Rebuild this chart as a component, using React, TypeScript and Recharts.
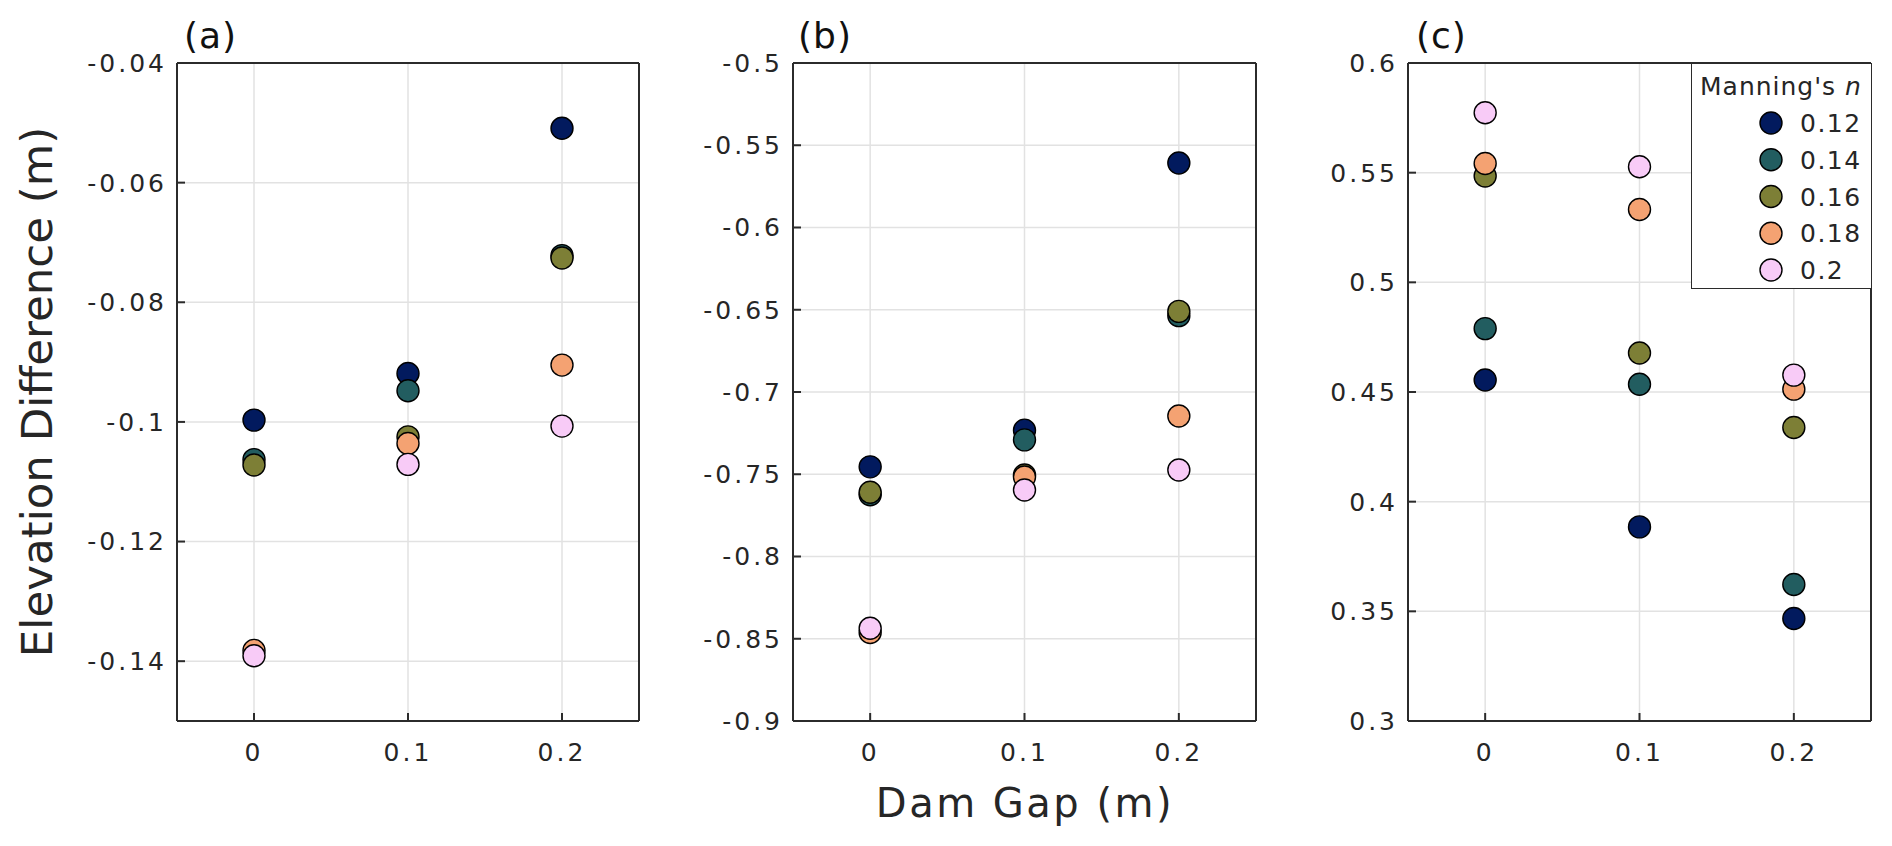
import { ScatterChart, Scatter, XAxis, YAxis, CartesianGrid, Legend } from "recharts";

// Dam gap (m) on the x axis
const damGaps = [0, 0.1, 0.2];

// Manning's n series
const manningN = ["0.12", "0.14", "0.16", "0.18", "0.2"];
const seriesColors = ["#021a5e", "#225d60", "#7d7f36", "#f4a272", "#f8cbf7"];

// (a) elevation difference, one row per n, one value per gap
const panelAValues = [
  [-0.0997, -0.0919, -0.0509],
  [-0.1063, -0.0948, -0.0722],
  [-0.1072, -0.1025, -0.0726],
  [-0.1382, -0.1036, -0.0905],
  [-0.1391, -0.1071, -0.1007],
];
const panelATicks = [-0.14, -0.12, -0.1, -0.08, -0.06, -0.04];

// (b)
const panelBValues = [
  [-0.7455, -0.7232, -0.5608],
  [-0.7625, -0.7291, -0.6536],
  [-0.7609, -0.7505, -0.651],
  [-0.8462, -0.7517, -0.7146],
  [-0.8436, -0.7596, -0.7474],
];
const panelBTicks = [-0.9, -0.85, -0.8, -0.75, -0.7, -0.65, -0.6, -0.55, -0.5];

// (c)
const panelCValues = [
  [0.4555, 0.3885, 0.3467],
  [0.4789, 0.4535, 0.3622],
  [0.5485, 0.4678, 0.4338],
  [0.5542, 0.5332, 0.4513],
  [0.5773, 0.5527, 0.4577],
];
const panelCTicks = [0.3, 0.35, 0.4, 0.45, 0.5, 0.55, 0.6];

const gapTicks = [0, 0.1, 0.2];

const TEXT = "#262626";
const AXIS = "#2b2b2b";
const HEIGHT = 846;
const PLOT_TOP = 63;
const PLOT_BOTTOM = 721;
const YAXIS_W = 70;
const XAXIS_H = 40;

function LegendBox({ payload }: any) {
  const items = payload && payload.length ? payload : manningN.map((n, i) => ({ value: n, color: seriesColors[i] }));
  return (
    <svg width={178} height={223} style={{ display: "block" }}>
      <text x={8} y={31} fontSize={25} fill={TEXT} letterSpacing={1}>
        Manning's <tspan fontStyle="italic">n</tspan>
      </text>
      {items.map((it: any, i: number) => (
        <g key={it.value}>
          <circle cx={79} cy={59 + i * 36.75} r={11} fill={it.color} stroke="#000" strokeWidth={1.4} />
          <text x={108} y={68 + i * 36.75} fontSize={25} fill={TEXT} letterSpacing={1.5}>
            {it.value}
          </text>
        </g>
      ))}
    </svg>
  );
}

type PanelProps = {
  left: number;
  width: number;
  plotLeft: number;
  plotRight: number;
  values: number[][];
  yTicks: number[];
  yDomain: [number, number];
  tag: string;
  tagOffset: number;
  yTitle?: boolean;
  xTitle?: boolean;
  legend?: boolean;
};

function Panel(p: PanelProps) {
  const margin = {
    top: PLOT_TOP - 1,
    right: p.left + p.width - p.plotRight - 1,
    left: p.plotLeft - p.left - YAXIS_W,
    bottom: HEIGHT - PLOT_BOTTOM - XAXIS_H,
  };
  const rel = (x: number) => x - p.left;

  return (
    <div style={{ position: "absolute", left: p.left, top: 0 }}>
      <ScatterChart width={p.width} height={HEIGHT} margin={margin}>
        <CartesianGrid stroke="#e2e2e2" strokeWidth={1.5} />
        <XAxis
          type="number"
          dataKey="gap"
          domain={[-0.05, 0.25]}
          ticks={gapTicks}
          interval={0}
          height={XAXIS_H}
          tickSize={-8}
          tickMargin={30}
          axisLine={{ stroke: AXIS, strokeWidth: 2 }}
          tickLine={{ stroke: AXIS, strokeWidth: 2 }}
          tick={{ fontSize: 25, fill: TEXT, letterSpacing: 3 }}
          label={
            p.xTitle
              ? {
                  content: () => (
                    <text x={rel(1025)} y={817} textAnchor="middle" fontSize={40} fill={TEXT} letterSpacing={2.5}>
                      Dam Gap (m)
                    </text>
                  ),
                }
              : undefined
          }
        />
        <XAxis
          xAxisId="top"
          orientation="top"
          type="number"
          domain={[-0.05, 0.25]}
          ticks={gapTicks}
          interval={0}
          height={1}
          tickSize={-8}
          tick={false}
          axisLine={{ stroke: AXIS, strokeWidth: 2 }}
          tickLine={{ stroke: AXIS, strokeWidth: 2 }}
          label={{
            content: () => (
              <text x={rel(p.plotLeft) + p.tagOffset} y={48} fontSize={36} fill="#111" letterSpacing={1}>
                {p.tag}
              </text>
            ),
          }}
        />
        <YAxis
          type="number"
          dataKey="diff"
          domain={p.yDomain}
          ticks={p.yTicks}
          interval={0}
          width={YAXIS_W}
          tickSize={-8}
          tickMargin={18}
          axisLine={{ stroke: AXIS, strokeWidth: 2 }}
          tickLine={{ stroke: AXIS, strokeWidth: 2 }}
          tick={{ fontSize: 25, fill: TEXT, letterSpacing: 3 }}
          label={
            p.yTitle
              ? {
                  content: () => (
                    <text
                      x={52}
                      y={392}
                      transform="rotate(-90 52 392)"
                      textAnchor="middle"
                      fontSize={43.5}
                      fill={TEXT}
                    >
                      Elevation Difference (m)
                    </text>
                  ),
                }
              : undefined
          }
        />
        <YAxis
          yAxisId="right"
          orientation="right"
          type="number"
          domain={p.yDomain}
          ticks={p.yTicks}
          interval={0}
          width={1}
          tickSize={-8}
          tick={false}
          axisLine={{ stroke: AXIS, strokeWidth: 2 }}
          tickLine={{ stroke: AXIS, strokeWidth: 2 }}
        />
        {p.legend && (
          <Legend
            layout="vertical"
            align="center"
            verticalAlign="middle"
            content={(props: any) => <LegendBox payload={props.payload} />}
            wrapperStyle={{
              left: rel(1691),
              top: PLOT_TOP,
              width: 181,
              height: 226,
              border: `1.5px solid ${AXIS}`,
              background: "#fff",
              boxSizing: "border-box",
            }}
          />
        )}
        {manningN.map((n, i) => (
          <Scatter
            key={n}
            name={n}
            data={damGaps.map((g, j) => ({ gap: g, diff: p.values[i][j] }))}
            fill={seriesColors[i]}
            isAnimationActive={false}
            shape={(s: any) => (
              <circle cx={s.cx} cy={s.cy} r={11} fill={seriesColors[i]} stroke="#000" strokeWidth={1.4} />
            )}
          />
        ))}
      </ScatterChart>
    </div>
  );
}

export default function App() {
  return (
    <div
      style={{
        position: "absolute",
        left: 0,
        top: 0,
        width: 1892,
        height: HEIGHT,
        background: "#fff",
        fontFamily: "'DejaVu Sans', Verdana, sans-serif",
        overflow: "hidden",
      }}
    >
      <Panel
        left={0}
        width={680}
        plotLeft={177}
        plotRight={639}
        values={panelAValues}
        yTicks={panelATicks}
        yDomain={[-0.15, -0.04]}
        tag="(a)"
        tagOffset={7}
        yTitle
      />
      <Panel
        left={700}
        width={600}
        plotLeft={793}
        plotRight={1256}
        values={panelBValues}
        yTicks={panelBTicks}
        yDomain={[-0.9, -0.5]}
        tag="(b)"
        tagOffset={5}
        xTitle
      />
      <Panel
        left={1320}
        width={572}
        plotLeft={1408}
        plotRight={1871}
        values={panelCValues}
        yTicks={panelCTicks}
        yDomain={[0.3, 0.6]}
        tag="(c)"
        tagOffset={8}
        legend
      />
    </div>
  );
}
